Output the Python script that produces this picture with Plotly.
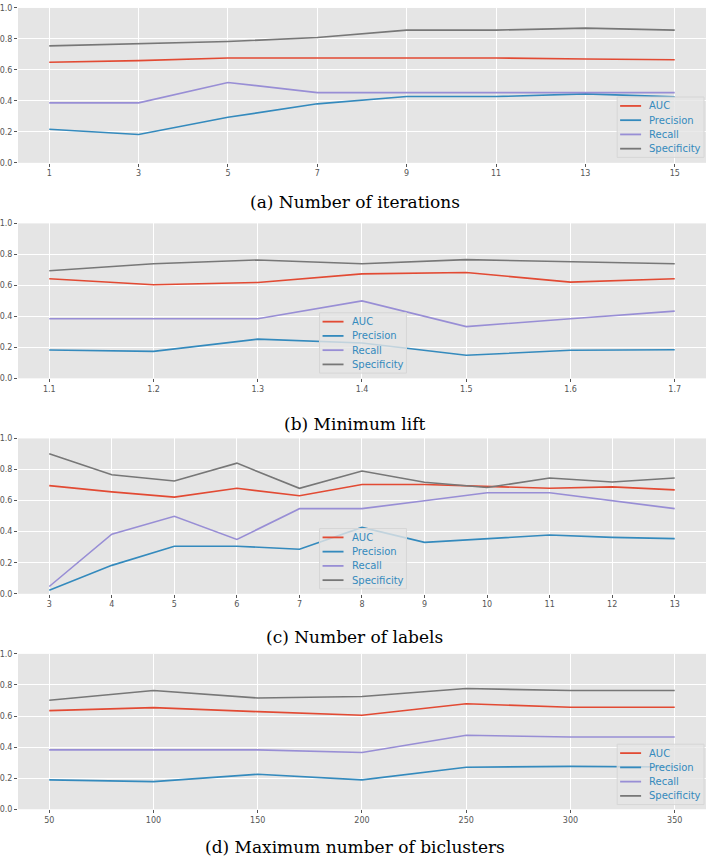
import plotly.graph_objects as go

W, H = 708, 865

# ---- data ----
iter_x = [1, 3, 5, 7, 9, 11, 13, 15]
iter_auc = [0.649, 0.660, 0.677, 0.677, 0.677, 0.677, 0.670, 0.666]
iter_prec = [0.217, 0.183, 0.294, 0.381, 0.428, 0.428, 0.445, 0.426]
iter_rec = [0.387, 0.387, 0.519, 0.453, 0.453, 0.453, 0.453, 0.453]
iter_spec = [0.755, 0.768, 0.783, 0.809, 0.857, 0.857, 0.870, 0.857]

lift_x = [1.1, 1.2, 1.3, 1.4, 1.5, 1.6, 1.7]
lift_auc = [0.643, 0.604, 0.619, 0.674, 0.683, 0.621, 0.643]
lift_prec = [0.183, 0.174, 0.253, 0.228, 0.149, 0.181, 0.185]
lift_rec = [0.385, 0.385, 0.385, 0.500, 0.334, 0.385, 0.434]
lift_spec = [0.694, 0.740, 0.764, 0.740, 0.766, 0.753, 0.740]

lab_x = [3, 4, 5, 6, 7, 8, 9, 10, 11, 12, 13]
lab_auc = [0.696, 0.656, 0.622, 0.679, 0.631, 0.703, 0.703, 0.692, 0.679, 0.688, 0.669]
lab_prec = [0.023, 0.183, 0.306, 0.306, 0.287, 0.427, 0.331, 0.355, 0.378, 0.363, 0.355]
lab_rec = [0.047, 0.384, 0.499, 0.350, 0.548, 0.548, 0.599, 0.650, 0.650, 0.599, 0.548]
lab_spec = [0.902, 0.766, 0.726, 0.841, 0.679, 0.790, 0.718, 0.684, 0.745, 0.720, 0.745]

bic_x = [50, 100, 150, 200, 250, 300, 350]
bic_auc = [0.635, 0.654, 0.628, 0.605, 0.679, 0.656, 0.656]
bic_prec = [0.189, 0.178, 0.225, 0.189, 0.270, 0.276, 0.272]
bic_rec = [0.382, 0.382, 0.382, 0.365, 0.476, 0.465, 0.465]
bic_spec = [0.701, 0.764, 0.716, 0.726, 0.777, 0.764, 0.764]

y_ticks = [0.0, 0.2, 0.4, 0.6, 0.8, 1.0]
series_names = ["AUC", "Precision", "Recall", "Specificity"]
colors = ["#E24A33", "#348ABD", "#988ED5", "#777777"]
captions = ["(a) Number of iterations", "(b) Minimum lift",
            "(c) Number of labels", "(d) Maximum number of biclusters"]

panels = [
    (iter_x, [iter_auc, iter_prec, iter_rec, iter_spec]),
    (lift_x, [lift_auc, lift_prec, lift_rec, lift_spec]),
    (lab_x, [lab_auc, lab_prec, lab_rec, lab_spec]),
    (bic_x, [bic_auc, bic_prec, bic_rec, bic_spec]),
]

# pixel geometry (top, bottom) of each plot area
rows_px = [(4, 160.5), (221.7, 378.3), (439, 596), (656.7, 813.7)]
caption_y = [200, 424, 640, 852]
legend_box = [(617, 94), (319, 312), (319, 530), (617, 748)]  # left, top
LEG_W, LEG_H, LEG_STEP = 87, 61, 14.4
x_left, x_right = 17, 706


def px(x):
    return x / W


def py(y):
    return 1 - y / H


fig = go.Figure()
layout = dict(
    width=W, height=H, margin=dict(l=0, r=0, t=0, b=0),
    paper_bgcolor="white", plot_bgcolor="#E5E5E5", showlegend=False,
)
shapes = []
annotations = []

for i, (xs, ys) in enumerate(panels):
    n = i + 1
    xa = "x" if n == 1 else f"x{n}"
    ya = "y" if n == 1 else f"y{n}"
    for name, col, yv in zip(series_names, colors, ys):
        fig.add_trace(go.Scatter(x=xs, y=yv, mode="lines", name=name,
                                 line=dict(color=col, width=1.6),
                                 xaxis=xa, yaxis=ya))
    span = xs[-1] - xs[0]
    top, bot = rows_px[i]
    tick_font = dict(family="DejaVu Sans", size=8, color="#555555")
    layout["xaxis" if n == 1 else f"xaxis{n}"] = dict(
        domain=[px(x_left), px(x_right)], anchor=ya,
        range=[xs[0] - 0.05 * span, xs[-1] + 0.05 * span],
        tickmode="array", tickvals=xs, ticktext=[str(v) for v in xs],
        showgrid=True, gridcolor="white", gridwidth=1, zeroline=False,
        showline=False, ticks="outside", ticklen=3, tickcolor="#555555",
        tickfont=tick_font,
    )
    layout["yaxis" if n == 1 else f"yaxis{n}"] = dict(
        domain=[py(bot), py(top)], anchor=xa,
        range=[0, 1], tickmode="array", tickvals=y_ticks,
        ticktext=[f"{v:.1f}" for v in y_ticks],
        showgrid=True, gridcolor="white", gridwidth=1, zeroline=False,
        showline=False, ticks="outside", ticklen=3, tickcolor="#555555",
        tickfont=tick_font,
    )
    # legend box (matplotlib style)
    lx, ly = legend_box[i]
    shapes.append(dict(type="rect", xref="paper", yref="paper",
                       x0=px(lx), x1=px(lx + LEG_W), y0=py(ly + LEG_H), y1=py(ly),
                       fillcolor="rgba(229,229,229,0.8)",
                       line=dict(color="#D6D6D6", width=1), layer="above"))
    for k, (name, col) in enumerate(zip(series_names, colors)):
        yy = ly + 9 + k * LEG_STEP
        shapes.append(dict(type="line", xref="paper", yref="paper",
                           x0=px(lx + 3), x1=px(lx + 24), y0=py(yy), y1=py(yy),
                           line=dict(color=col, width=1.8), layer="above"))
        annotations.append(dict(text=name, x=px(lx + 30), y=py(yy), xref="paper",
                                yref="paper", xanchor="left", yanchor="middle",
                                showarrow=False,
                                font=dict(family="DejaVu Sans", size=10, color="#348ABD")))

for cap, cy in zip(captions, caption_y):
    annotations.append(dict(text=cap, x=0.5, y=py(cy), xref="paper", yref="paper",
                            xanchor="center", yanchor="middle", showarrow=False,
                            font=dict(family="DejaVu Serif", size=17, color="black")))
layout["annotations"] = annotations
layout["shapes"] = shapes
fig.update_layout(**layout)
fig.write_html("out.html",
               config={"displayModeBar": False},
               post_script="document.body.style.margin='0';"
                           "document.body.style.overflow='hidden';")
